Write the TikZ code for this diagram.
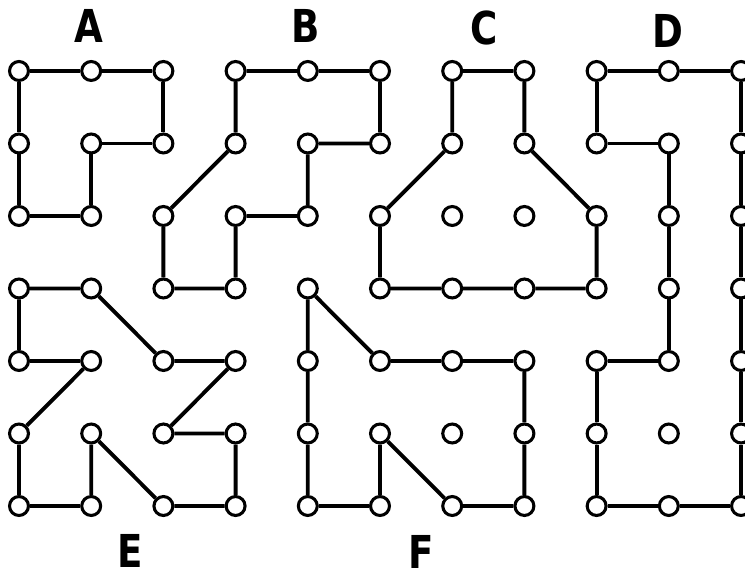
\documentclass[tikz,border=0pt]{standalone}
\usepackage{fontspec}
\setmainfont{DejaVu Sans}
\begin{document}
\begin{tikzpicture}[x=54.15pt,y=-54.375pt,
  dot/.style={circle,draw,line width=2.3pt,minimum size=14.2pt,inner sep=0pt,fill=white},
  edge/.style={line width=2.9pt},
  lab/.style={font=\fontsize{34}{34}\selectfont\bfseries,inner sep=0pt}]
\useasboundingbox (-0.263,-0.979) rectangle (10.055,7.021);

% grid points used by the six figures
\foreach \i/\j in {0/0,1/0,2/0,0/1,1/1,2/1,0/2,1/2,
                   3/0,4/0,5/0,3/1,4/1,5/1,2/2,3/2,4/2,2/3,3/3,
                   6/0,7/0,6/1,7/1,5/2,6/2,7/2,8/2,5/3,6/3,7/3,8/3,
                   8/0,9/0,10/0,8/1,9/1,10/1,9/2,10/2,9/3,10/3,8/4,9/4,10/4,
                   8/5,9/5,10/5,8/6,9/6,10/6,
                   0/3,1/3,0/4,1/4,2/4,3/4,0/5,1/5,2/5,3/5,0/6,1/6,2/6,3/6,
                   4/3,4/4,5/4,6/4,7/4,4/5,5/5,6/5,7/5,4/6,5/6,6/6,7/6}
  \node[dot] (p-\i-\j) at (\i,\j) {};

% A
\draw[edge] (p-0-0) -- (p-1-0) -- (p-2-0) -- (p-2-1) -- (p-1-1) -- (p-1-2)
  -- (p-0-2) -- (p-0-1) -- (p-0-0);
% B
\draw[edge] (p-3-0) -- (p-4-0) -- (p-5-0) -- (p-5-1) -- (p-4-1) -- (p-4-2)
  -- (p-3-2) -- (p-3-3) -- (p-2-3) -- (p-2-2) -- (p-3-1) -- (p-3-0);
% C
\draw[edge] (p-6-0) -- (p-7-0) -- (p-7-1) -- (p-8-2) -- (p-8-3) -- (p-7-3)
  -- (p-6-3) -- (p-5-3) -- (p-5-2) -- (p-6-1) -- (p-6-0);
% D
\draw[edge] (p-8-0) -- (p-9-0) -- (p-10-0) -- (p-10-1) -- (p-10-2) -- (p-10-3)
  -- (p-10-4) -- (p-10-5) -- (p-10-6) -- (p-9-6) -- (p-8-6) -- (p-8-5)
  -- (p-8-4) -- (p-9-4) -- (p-9-3) -- (p-9-2) -- (p-9-1) -- (p-8-1) -- (p-8-0);
% E
\draw[edge] (p-0-3) -- (p-1-3) -- (p-2-4) -- (p-3-4) -- (p-2-5) -- (p-3-5)
  -- (p-3-6) -- (p-2-6) -- (p-1-5) -- (p-1-6) -- (p-0-6) -- (p-0-5)
  -- (p-1-4) -- (p-0-4) -- (p-0-3);
% F
\draw[edge] (p-4-3) -- (p-5-4) -- (p-6-4) -- (p-7-4) -- (p-7-5) -- (p-7-6)
  -- (p-6-6) -- (p-5-5) -- (p-5-6) -- (p-4-6) -- (p-4-5) -- (p-4-4) -- (p-4-3);

% letters
\node[lab] (la) at (0.97,-0.62) {\scalebox{0.82}[1]{A}};
\node[lab] (lb) at (3.97,-0.62) {\scalebox{0.82}[1]{B}};
\node[lab] (lc) at (6.44,-0.59) {\scalebox{0.82}[1]{C}};
\node[lab] (ld) at (8.99,-0.55) {\scalebox{0.82}[1]{D}};
\node[lab] (le) at (1.54,6.62) {\scalebox{0.82}[1]{E}};
\node[lab] (lf) at (5.57,6.63) {\scalebox{0.82}[1]{F}};
\end{tikzpicture}
\end{document}
